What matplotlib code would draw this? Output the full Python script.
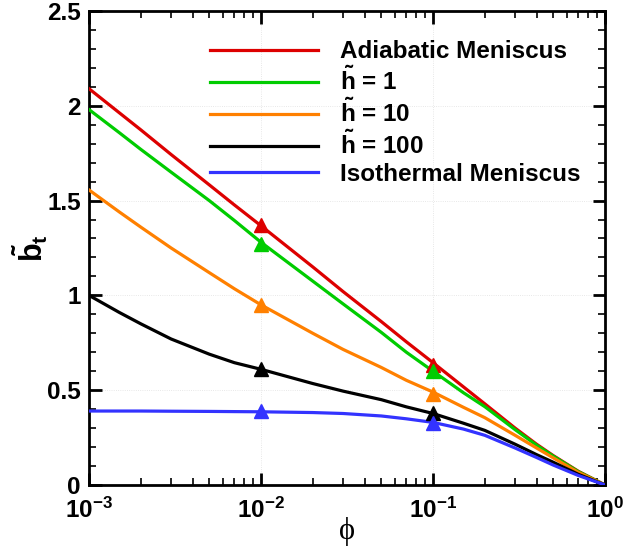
import matplotlib
matplotlib.use("Agg")
import matplotlib.pyplot as plt
from matplotlib.ticker import FixedLocator, FuncFormatter, MultipleLocator
import numpy as np

plt.rcParams['font.family'] = ['Liberation Sans', 'DejaVu Sans']
plt.rcParams['font.weight'] = 'bold'
plt.rcParams['mathtext.fontset'] = 'custom'
plt.rcParams['mathtext.rm'] = 'Liberation Sans:bold'
plt.rcParams['mathtext.bf'] = 'Liberation Sans:bold'
plt.rcParams['mathtext.it'] = 'Liberation Sans:bold'

phi = [1e-3, 1.5e-3, 2e-3, 3e-3, 5e-3, 7e-3, 1e-2, 2e-2, 3e-2, 5e-2, 7e-2, 0.1, 0.15, 0.2, 0.3, 0.4, 0.5, 0.7, 1.0]
adiabatic = [2.09, 1.963, 1.873, 1.743, 1.583, 1.477, 1.367, 1.15, 1.02, 0.862, 0.755, 0.645, 0.518, 0.428, 0.30, 0.215, 0.155, 0.072, 0.0]
h1 = [1.98, 1.858, 1.77, 1.65, 1.50, 1.395, 1.28, 1.075, 0.955, 0.805, 0.70, 0.60, 0.487, 0.413, 0.292, 0.21, 0.152, 0.07, 0.0]
h10 = [1.556, 1.44, 1.36, 1.25, 1.12, 1.035, 0.95, 0.80, 0.715, 0.62, 0.552, 0.49, 0.41, 0.355, 0.262, 0.195, 0.143, 0.066, 0.0]
h100 = [1.0, 0.91, 0.85, 0.77, 0.69, 0.645, 0.61, 0.535, 0.495, 0.45, 0.412, 0.377, 0.326, 0.288, 0.215, 0.16, 0.12, 0.056, 0.0]
isothermal = [0.39, 0.39, 0.39, 0.389, 0.388, 0.387, 0.386, 0.382, 0.377, 0.364, 0.349, 0.33, 0.295, 0.262, 0.195, 0.145, 0.105, 0.05, 0.0]

marker_phi = [1e-2, 1e-1]
adiabatic_m = [1.37, 0.635]
h1_m = [1.27, 0.60]
h10_m = [0.95, 0.48]
h100_m = [0.61, 0.38]
isothermal_m = [0.39, 0.325]

labels = ['Adiabatic Meniscus', r'$\mathbf{\tilde{h}}$ = 1', r'$\mathbf{\tilde{h}}$ = 10',
          r'$\mathbf{\tilde{h}}$ = 100', 'Isothermal Meniscus']
colors = ['#dd0000', '#00cc00', '#ff8000', '#000000', '#3333ff']
series = [adiabatic, h1, h10, h100, isothermal]
markers = [adiabatic_m, h1_m, h10_m, h100_m, isothermal_m]

fig = plt.figure(figsize=(6.26, 5.48), dpi=100)
ax = fig.add_axes([0.1422, 0.115, 0.8243, 0.865])

for y, ym, c, lab in zip(series, markers, colors, labels):
    ax.plot(phi, y, color=c, lw=2.3, label=lab, zorder=3, solid_joinstyle='round')
    ax.plot(marker_phi, ym, linestyle='none', marker='^', color=c, ms=10, zorder=4)

ax.set_xscale('log')
ax.set_xlim(1e-3, 1.0)
ax.set_ylim(0, 2.5)
ax.xaxis.set_major_locator(FixedLocator([1e-3, 1e-2, 1e-1, 1.0]))
ax.xaxis.set_major_formatter(FuncFormatter(lambda v, p: r'$\mathbf{10^{%d}}$' % int(round(np.log10(v)))))
ax.yaxis.set_major_locator(MultipleLocator(0.5))
ax.yaxis.set_minor_locator(MultipleLocator(0.1))
ax.yaxis.set_major_formatter(FuncFormatter(lambda v, p: ('%g' % v)))

ax.grid(True, which='major', color='#cccccc', linestyle=':', lw=0.6, alpha=0.6)
ax.tick_params(which='both', direction='in', top=True, right=True, width=2)
ax.tick_params(which='major', length=9, labelsize=17.5, pad=6)
ax.tick_params(axis='x', which='major', pad=9)
ax.tick_params(which='minor', length=5, width=1.2)
for s in ax.spines.values():
    s.set_linewidth(2)

for t in ax.get_xticklabels() + ax.get_yticklabels():
    t.set_fontweight('bold')

ax.set_xlabel('ϕ', family=['Liberation Serif', 'DejaVu Serif'], fontweight='normal', fontsize=22, labelpad=-4)
ax.set_ylabel(r'$\mathbf{\tilde{b}_t}$', fontsize=22)
ax.yaxis.set_label_coords(-0.075, 0.5)

leg = ax.legend(loc='upper left', bbox_to_anchor=(0.2345, 0.938), frameon=False,
                borderpad=0, borderaxespad=0,
                handlelength=4.44, handletextpad=0.9, labelspacing=0.15,
                prop={'weight': 'bold', 'size': 17.5})

fig.savefig('out.png', dpi=100)
